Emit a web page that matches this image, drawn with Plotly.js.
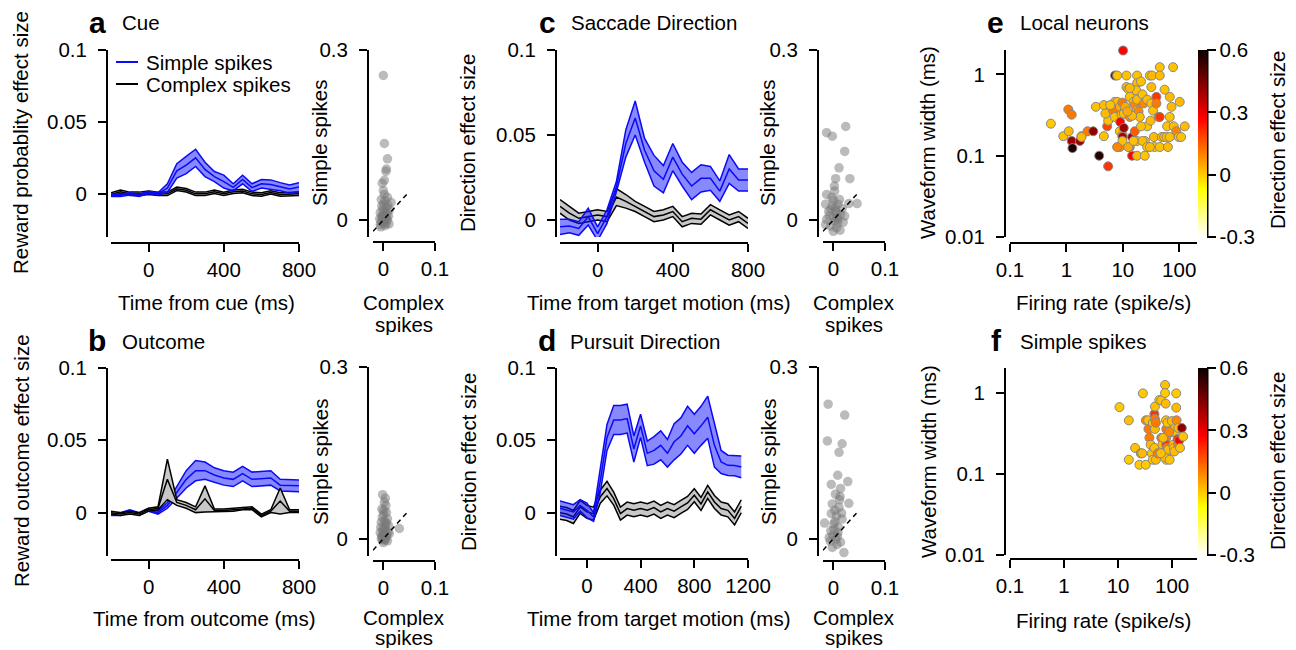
<!DOCTYPE html>
<html>
<head>
<meta charset="utf-8">
<script src="https://cdn.plot.ly/plotly-3.0.1.min.js"></script>
<style>html,body{margin:0;padding:0;background:#fff;}#chart{width:1296px;height:650px;}</style>
</head>
<body>
<div id="chart"></div>
<script>
// ---------- DATA ----------
const timeABC = [-200,-150,-100,-50,0,50,100,150,200,250,300,350,400,450,500,550,600,650,700,750,800];
const timeD = [-200,-150,-100,-50,0,50,100,150,200,250,300,350,400,450,500,550,600,650,700,750,800,850,900,950,1000,1050,1100,1150];

// a: Cue (reward probability effect size)
const cueSimpleMean = [-0.001,-0.001,0.000,-0.001,0.001,0.000,0.004,0.016,0.020,0.025,0.017,0.012,0.0085,0.0045,0.010,0.0043,0.007,0.0065,0.005,0.0033,0.0047];
const cueSimpleSem  = [0.0008,0.0008,0.0008,0.0008,0.0008,0.0008,0.003,0.005,0.006,0.006,0.005,0.0035,0.0045,0.0025,0.003,0.0027,0.003,0.0032,0.0028,0.0028,0.003];
const cueComplexMean = [-0.0005,0.0015,0.000,0.000,0.0008,0.000,0.000,0.0035,0.0025,0.000,0.000,0.0015,0.000,0.0015,0.002,0.000,-0.0005,0.001,-0.0005,-0.0005,0.000];
const cueComplexSem  = [0.0012,0.0012,0.0012,0.0012,0.0012,0.0012,0.0012,0.0012,0.0012,0.0012,0.0012,0.0012,0.0012,0.0012,0.0012,0.0012,0.0012,0.0012,0.0012,0.0012,0.0012];

// b: Outcome
const outSimpleMean = [-0.001,-0.001,0.001,-0.001,0.002,0.000,0.005,0.014,0.023,0.029,0.029,0.026,0.024,0.023,0.027,0.023,0.0235,0.024,0.019,0.0185,0.0185];
const outSimpleSem  = [0.001,0.001,0.001,0.001,0.001,0.001,0.002,0.004,0.006,0.007,0.006,0.005,0.005,0.005,0.005,0.005,0.005,0.005,0.004,0.004,0.004];
const outComplexMean = [0.000,-0.001,0.000,-0.001,0.002,0.003,0.023,0.007,0.005,0.002,0.0095,0.0015,0.0015,0.002,0.003,0.003,-0.002,0.001,0.008,0.001,0.001];
const outComplexSem  = [0.001,0.001,0.001,0.001,0.001,0.001,0.014,0.002,0.002,0.002,0.009,0.001,0.001,0.001,0.001,0.001,0.001,0.001,0.009,0.001,0.001];

// c: Saccade direction
const sacSimpleMean = [-0.004,-0.0035,-0.005,0.002,-0.008,0.002,0.0196,0.045,0.060,0.041,0.029,0.024,0.037,0.027,0.020,0.0245,0.0245,0.017,0.030,0.0235,0.0235];
const sacSimpleSem  = [0.0045,0.004,0.004,0.005,0.004,0.004,0.003,0.008,0.010,0.007,0.009,0.008,0.008,0.007,0.008,0.008,0.007,0.006,0.0085,0.0065,0.0065];
const sacComplexMean = [0.008,0.004,0.001,0.002,0.003,0.002,0.0135,0.011,0.008,0.005,0.002,0.003,0.005,-0.001,0.001,0.0005,0.006,0.003,0.000,0.002,-0.002];
const sacComplexSem  = [0.004,0.004,0.003,0.003,0.003,0.003,0.005,0.004,0.003,0.003,0.003,0.003,0.003,0.003,0.003,0.003,0.003,0.003,0.003,0.003,0.003];

// d: Pursuit direction
const purSimpleMean = [0.003,0.0016,0.0005,0.005,0.0016,-0.003,0.022,0.052,0.064,0.064,0.065,0.044,0.060,0.041,0.043,0.0465,0.041,0.049,0.053,0.060,0.0545,0.060,0.066,0.0465,0.035,0.0327,0.0325,0.0316];
const purSimpleSem  = [0.005,0.005,0.005,0.004,0.005,0.003,0.008,0.009,0.010,0.010,0.010,0.009,0.008,0.0085,0.0095,0.010,0.0095,0.0125,0.0125,0.0135,0.0135,0.0135,0.0145,0.015,0.008,0.007,0.007,0.0075];
const purComplexMean = [0.000,-0.001,-0.003,0.004,0.0005,-0.0007,0.011,0.0166,0.0097,-0.0007,0.0028,0.0016,0.0028,0.0016,0.0035,0.0005,0.0028,0.001,0.004,0.0067,0.012,0.006,0.0143,0.0074,0.0028,0.0016,-0.004,0.0044];
const purComplexSem  = [0.0045,0.0045,0.0045,0.0045,0.0045,0.0045,0.0045,0.005,0.0045,0.0045,0.0045,0.0045,0.0045,0.0045,0.0045,0.0045,0.0045,0.0045,0.0045,0.0045,0.0045,0.0045,0.0045,0.0045,0.0045,0.0045,0.0045,0.0045];

// scatter: per-neuron effect sizes (complex spikes vs simple spikes)
const cueCS = [0,0.002,0.008,0.006,0.005,-0.002,0.0,0.008,0.003,0.015,-0.003,0.006,-0.006,0.0,0.010,-0.003,0.003,0.008,-0.004,0.0,0.005,-0.006,0.011,0.002,-0.004,0.012,0.004,-0.001,0.007,-0.007,0.002,0.004,-0.002,0.001,0.009,-0.005,0.003,0.006,0.000,0.002];
const cueSS = [0.255,0.135,0.108,0.090,0.086,0.065,0.052,0.040,0.034,0.031,0.025,0.022,0.013,0.010,0.007,0.004,0.001,0.0,-0.003,-0.005,-0.007,-0.008,-0.007,0.045,0.036,0.018,0.015,0.019,0.011,0.002,-0.002,0.005,0.008,0.028,0.026,-0.012,-0.010,0.003,0.001,0.070];
const outCS = [-0.0013,0.0038,0.005,-0.003,0.001,0.008,-0.004,0.004,0.010,-0.001,0.005,-0.006,0.001,0.0115,-0.003,0.005,0.008,0.000,0.031,-0.004,0.002,0.006,-0.002,0.003,0.007,-0.005,0.002,0.004,0.009,-0.002,0.000,0.006,0.003,0.001,-0.001];
const outSS = [0.077,0.071,0.058,0.052,0.043,0.035,0.029,0.026,0.023,0.017,0.014,0.011,0.008,0.009,0.005,0.002,-0.0035,-0.0065,0.018,0.000,0.064,0.046,0.038,0.020,0.006,0.020,0.031,-0.002,0.012,0.003,0.012,0.028,0.0,0.050,-0.002];
const sacCS = [-0.013,-0.002,0.024,0.022,0.011,0.0045,0.032,0.0025,-0.013,0.000,-0.015,0.009,0.030,0.046,-0.005,0.0045,0.014,-0.008,0.022,0.000,0.008,-0.015,-0.005,0.006,0.013,0.001,0.009,-0.013,0.004,0.017,-0.003,0.006,0.003,-0.009,0.012,0.002,0.019,-0.002,0.007,0.0];
const sacSS = [0.154,0.148,0.165,0.121,0.092,0.073,0.073,0.051,0.045,0.035,0.028,0.028,0.029,0.029,0.019,0.016,0.010,0.007,0.007,0.004,0.001,-0.008,-0.011,-0.014,-0.018,-0.036,-0.005,0.001,0.022,0.020,0.040,0.012,-0.002,0.015,0.036,0.060,-0.004,0.025,0.005,-0.020];
const purCS = [-0.010,0.022,-0.0115,0.017,0.011,0.0085,0.028,-0.004,0.014,0.013,0.030,-0.002,0.011,-0.004,0.006,0.017,-0.017,0.001,-0.005,0.009,-0.023,-0.008,0.005,0.014,-0.021,-0.002,0.0205,0.007,0.012,0.003,0.010,-0.001,0.003,0.016,-0.006,0.008,0.001,0.004];
const purSS = [0.235,0.216,0.171,0.166,0.151,0.111,0.100,0.095,0.088,0.074,0.062,0.061,0.055,0.044,0.040,0.0345,0.0275,0.026,0.014,0.011,0.001,0.002,-0.0006,-0.006,-0.012,-0.015,-0.024,-0.010,0.068,0.050,0.020,0.006,0.030,0.045,-0.004,0.004,0.016,0.078];
const unityX = [-0.02,0.05];
const unityY = [-0.02,0.05];

// e: local neurons
const localRate = [10.1,0.53,1.08,1.24,0.88,1.1,1.24,1.28,1.73,1.85,2.37,2.99,3.81,4.61,3.33,4.61,5.5,5.28,5.5,4.9,6.74,7.21,7.21,7.3,7.93,7.93,8.85,8.85,9.5,9.86,9.0,10.4,9.86,8.85,9.86,11.6,11.6,10.9,12.5,14.6,14.6,16.3,13.3,12.5,13.3,15.5,16.3,17.9,17.9,17.2,17.9,17.9,19,20,17.9,17.9,22.3,23.5,24.5,24.5,27,27,30.1,31,32,33,34.4,35.5,36.5,39.4,43,45.2,45.2,39.4,45.2,45.2,49,54,59.3,61,63,68,68,68,73,77.8,80,89,98,102,108,125,55,32,21,13.3,10.4,13.3,14.6,21,22.3,27,30.1,15.5,7.93,1.85,9.86,11,12,6.0];
const localWidth = [1.97,0.248,0.37,0.32,0.174,0.20,0.152,0.124,0.152,0.174,0.20,0.20,0.10,0.174,0.40,0.42,0.074,0.23,0.27,0.33,0.36,0.30,0.46,0.97,0.97,0.46,0.40,0.20,0.32,0.18,0.26,0.22,0.17,0.128,0.152,0.97,0.70,0.36,0.66,0.10,0.17,0.20,0.128,0.128,0.53,0.46,0.42,0.97,0.78,0.64,0.49,0.36,0.35,0.30,0.152,0.10,0.57,0.44,0.152,0.10,0.49,0.23,0.97,0.27,0.44,0.97,0.36,0.17,0.128,0.53,0.30,1.23,0.97,0.44,0.30,0.128,0.17,0.17,0.17,0.23,0.128,0.17,0.53,0.30,0.40,1.23,0.23,0.20,0.17,0.46,0.17,0.23,0.65,0.70,0.82,0.68,0.33,0.30,0.31,0.23,0.152,0.128,0.128,0.152,0.128,0.17,0.45,0.40,0.35,0.42];
const localEffect = [0.27,0.0,0.11,0.11,0.01,0.02,0.40,0.57,0.40,0.09,0.11,0.42,0.57,0.01,0.01,0.02,0.20,0.18,0.01,0.02,0.11,0.01,0.02,0.50,0.01,0.02,0.04,0.01,0.02,0.04,0.27,0.40,0.38,0.09,0.01,0.01,0.02,0.11,0.01,0.27,0.40,0.15,0.09,0.04,0.01,0.02,0.09,0.01,0.02,0.01,0.02,0.01,0.09,0.02,0.01,0.02,0.01,0.09,0.02,0.01,0.02,0.01,0.01,0.02,0.01,0.02,0.01,0.02,0.01,0.20,0.11,0.01,0.02,0.11,0.20,0.01,0.02,0.01,0.02,0.01,0.02,0.01,0.02,0.01,0.02,0.01,0.02,0.09,0.01,0.02,0.01,0.02,0.01,0.02,0.01,0.02,0.01,0.09,0.02,0.01,0.02,0.01,0.02,0.01,0.09,0.02,0.11,0.04,0.04,0.01];

// f: simple spikes
const ssRate = [10.6,15.8,15.8,20.6,24.8,26.3,28.7,28,32.5,32.7,36.5,36,38,40,42,44,44,47,47,48,48,48,50,58,50,54,63,63,66,74,74,76,77,78,78,78,80,78,78,74,82,85,90,98.6,102,105,108,113,119,119,121,123,126,130,130,135,151,160,68,88,62,110,140];
const ssWidth = [0.67,0.46,0.15,0.21,0.13,0.18,0.99,0.18,0.13,0.46,0.36,0.46,0.28,0.23,0.18,0.43,0.15,0.21,0.55,0.68,0.48,0.36,0.43,0.82,0.15,0.18,0.81,0.28,0.23,1.26,1.0,0.74,0.46,0.36,0.28,0.23,0.21,0.18,0.15,0.16,0.43,0.20,0.15,0.45,0.33,0.23,0.21,0.37,0.99,0.66,0.46,0.31,0.27,0.23,0.37,0.26,0.37,0.29,0.28,0.33,0.18,0.19,0.21];
const ssEffect = [0.0,0.01,0.0,0.01,0.0,0.09,0.0,0.02,0.0,0.09,0.11,0.01,0.11,0.02,0.01,0.02,0.0,0.01,0.20,0.01,0.11,0.02,0.11,0.01,0.02,0.11,0.01,0.11,0.02,0.01,0.0,0.02,0.01,0.11,0.11,0.20,0.11,0.02,0.01,0.02,0.01,0.02,0.01,0.02,0.01,0.02,0.01,0.02,0.0,0.02,0.09,0.01,0.20,0.11,0.02,0.27,0.42,0.01,0.02,0.09,0.01,0.02,0.01];

// tick labels
const tsYTicks = [0,0.05,0.1];      const tsYText = ['0','0.05','0.1'];
const timeTicks = [0,400,800];      const timeText = ['0','400','800'];
const timeTicksD = [0,400,800,1200]; const timeTextD = ['0','400','800','1200'];
const scYTicks = [0,0.3];           const scYText = ['0','0.3'];
const scXTicks = [0,0.1];           const scXText = ['0','0.1'];
const logXTicks = [0.1,1,10,100];   const logXText = ['0.1','1','10','100'];
const logYTicks = [0.01,0.1,1];     const logYText = ['0.01','0.1','1'];
const cbTicks = [-0.3,0,0.3,0.6];   const cbText = ['-0.3','0','0.3','0.6'];

// ---------- LAYOUT HELPERS ----------
const W = 1296, H = 650;
const px = x => x / W;
const py = y => 1 - y / H;
const FONT = 'Liberation Sans, Arial, Helvetica, sans-serif';
const FS = 20.5;
const BLUE = 'rgb(10,10,245)';
const BLUEFILL = 'rgba(20,20,255,0.5)';
const GRAYFILL = 'rgb(200,200,200)';

const layout = {
  width: W, height: H,
  margin: {l:0, r:0, t:0, b:0},
  paper_bgcolor: '#fff', plot_bgcolor: 'rgba(0,0,0,0)',
  showlegend: false,
  font: {family: FONT, size: FS, color: '#000'},
  annotations: [], shapes: []
};

const axCommon = {
  showline: true, linecolor: '#000', linewidth: 2,
  ticks: 'outside', ticklen: 8, tickwidth: 2, tickcolor: '#000',
  showgrid: false, zeroline: false, fixedrange: true,
  tickfont: {family: FONT, size: FS, color: '#000'},
  anchor: 'free'
};

function panel(n, g, xo, yo) {
  const xn = n === 1 ? 'xaxis' : 'xaxis' + n;
  const yn = n === 1 ? 'yaxis' : 'yaxis' + n;
  layout[xn] = Object.assign({}, axCommon, {domain: [px(g.x0), px(g.x1)], position: py(g.xl)}, xo);
  layout[yn] = Object.assign({}, axCommon, {domain: [py(g.y1), py(g.y0)], position: px(g.yl), ticklabelstandoff: 7}, yo);
  return {xaxis: n === 1 ? 'x' : 'x' + n, yaxis: n === 1 ? 'y' : 'y' + n};
}

const tsX = {range: [-200, 800], tickvals: timeTicks, ticktext: timeText};
const scX = {range: [-0.02, 0.1], tickvals: scXTicks, ticktext: scXText};
const scY = {range: [-0.03, 0.3], tickvals: scYTicks, ticktext: scYText};

const pA  = panel(1,  {x0:111, x1:299, y0:50,  y1:237, xl:243, yl:107}, tsX, {range:[-0.03,0.1], tickvals:tsYTicks, ticktext:tsYText});
const pAs = panel(2,  {x0:373, x1:435, y0:50,  y1:237, xl:242, yl:368}, scX, scY);
const pB  = panel(3,  {x0:111, x1:299, y0:368, y1:556, xl:560, yl:107}, tsX, {range:[-0.03,0.1], tickvals:tsYTicks, ticktext:tsYText});
const pBs = panel(4,  {x0:373, x1:435, y0:367, y1:556, xl:561, yl:368}, scX, scY);
const pC  = panel(5,  {x0:560, x1:748, y0:50,  y1:237, xl:243, yl:556}, tsX, {range:[-0.01,0.1], tickvals:tsYTicks, ticktext:tsYText});
const pCs = panel(6,  {x0:823, x1:885, y0:50,  y1:237, xl:242, yl:818}, scX, scY);
const pD  = panel(7,  {x0:560, x1:748, y0:368, y1:556, xl:559, yl:556}, {range:[-200,1200], tickvals:timeTicksD, ticktext:timeTextD}, {range:[-0.03,0.1], tickvals:tsYTicks, ticktext:tsYText});
const pDs = panel(8,  {x0:823, x1:885, y0:367, y1:556, xl:561, yl:818}, scX, scY);
const pE  = panel(9,  {x0:1010, x1:1197, y0:50, y1:237, xl:243, yl:1005},
  {type:'log', range:[-1, 2.315], tickvals:logXTicks, ticktext:logXText},
  {type:'log', range:[-2, 0.301], tickvals:logYTicks, ticktext:logYText});
const pF  = panel(10, {x0:1010, x1:1197, y0:368, y1:555, xl:559, yl:1005},
  {type:'log', range:[-1, 2.46], tickvals:logXTicks, ticktext:logXText},
  {type:'log', range:[-2, 0.309], tickvals:logYTicks, ticktext:logYText});

// ---------- TRACES ----------
const data = [];
function band(p, t, mean, sem, lineColor, fillColor) {
  const lo = mean.map((m, i) => m - sem[i]);
  const hi = mean.map((m, i) => m + sem[i]);
  const base = Object.assign({x: t, mode: 'lines', hoverinfo: 'skip'}, p);
  data.push(Object.assign({}, base, {y: lo, line: {color: lineColor, width: 1.5}}));
  data.push(Object.assign({}, base, {y: hi, line: {color: lineColor, width: 1.5}, fill: 'tonexty', fillcolor: fillColor}));
  data.push(Object.assign({}, base, {y: mean, line: {color: lineColor, width: 1.5}}));
}
band(pA, timeABC, cueComplexMean, cueComplexSem, '#000', GRAYFILL);
band(pA, timeABC, cueSimpleMean, cueSimpleSem, BLUE, BLUEFILL);
band(pB, timeABC, outSimpleMean, outSimpleSem, BLUE, BLUEFILL);
band(pB, timeABC, outComplexMean, outComplexSem, '#000', GRAYFILL);
band(pC, timeABC, sacComplexMean, sacComplexSem, '#000', GRAYFILL);
band(pC, timeABC, sacSimpleMean, sacSimpleSem, BLUE, BLUEFILL);
band(pD, timeD, purComplexMean, purComplexSem, '#000', GRAYFILL);
band(pD, timeD, purSimpleMean, purSimpleSem, BLUE, BLUEFILL);

function cloud(p, xs, ys) {
  data.push(Object.assign({x: xs, y: ys, mode: 'markers', cliponaxis: false, hoverinfo: 'skip',
    marker: {size: 9.5, color: 'rgba(120,120,120,0.5)', line: {width: 0}}}, p));
  data.push(Object.assign({x: unityX, y: unityY, mode: 'lines', hoverinfo: 'skip',
    line: {color: '#000', width: 1.5, dash: '5px,4px'}}, p));
}
cloud(pAs, cueCS, cueSS);
cloud(pBs, outCS, outSS);
cloud(pCs, sacCS, sacSS);
cloud(pDs, purCS, purSS);

const hotR = [[0,'rgb(255,255,255)'],[0.254,'rgb(255,255,0)'],[0.635,'rgb(255,0,0)'],[1,'rgb(10,0,0)']];
function colorPts(p, xs, ys, cs, yTop) {
  data.push(Object.assign({x: xs, y: ys, mode: 'markers', cliponaxis: false, hoverinfo: 'skip',
    marker: {size: 9, color: cs, colorscale: hotR, cmin: -0.3, cmax: 0.6, showscale: true,
      line: {color: 'rgb(135,135,135)', width: 1},
      colorbar: {x: px(1198), xanchor: 'left', y: py(yTop), yanchor: 'top',
        len: 187, lenmode: 'pixels', thickness: 9, thicknessmode: 'pixels',
        xpad: 0, ypad: 0, outlinewidth: 0, tickvals: cbTicks, ticktext: cbText,
        ticks: 'outside', ticklen: 9, tickwidth: 2, tickcolor: '#000',
        tickfont: {family: FONT, size: FS, color: '#000'}}}}, p));
}
colorPts(pE, localRate, localWidth, localEffect, 50);
colorPts(pF, ssRate, ssWidth, ssEffect, 368);

// ---------- TEXT ----------
function ann(text, x, y, opts) {
  layout.annotations.push(Object.assign({text: text, x: px(x), y: py(y), xref: 'paper', yref: 'paper',
    showarrow: false, xanchor: 'center', yanchor: 'middle', font: {family: FONT, size: FS, color: '#000'}}, opts || {}));
}
const BIG = {family: FONT, size: 30, color: '#000'};
// panel letters and titles
ann('<b>a</b>', 97, 22, {font: BIG});
ann('Cue', 120, 23, {xanchor: 'left'});
ann('<b>b</b>', 97, 340, {font: BIG});
ann('Outcome', 120, 341, {xanchor: 'left'});
ann('<b>c</b>', 547, 22, {font: BIG});
ann('Saccade Direction', 569, 23, {xanchor: 'left'});
ann('<b>d</b>', 547, 340, {font: BIG});
ann('Pursuit Direction', 568, 341, {xanchor: 'left'});
ann('<b>e</b>', 995, 22, {font: BIG});
ann('Local neurons', 1018, 23, {xanchor: 'left'});
ann('<b>f</b>', 996, 340, {font: BIG});
ann('Simple spikes', 1018, 341, {xanchor: 'left'});

// axis titles
ann('Reward probablity effect size', 21, 143, {textangle: -90});
ann('Time from cue (ms)', 206, 302);
ann('Simple spikes', 320, 143, {textangle: -90});
ann('Complex', 404, 302, {height: 21});
ann('spikes', 404, 324, {height: 21});
ann('Reward outcome effect size', 21, 461, {textangle: -90});
ann('Time from outcome (ms)', 204, 618);
ann('Simple spikes', 320, 462, {textangle: -90});
ann('Complex', 404, 617, {height: 20});
ann('spikes', 404, 650, {yanchor: 'bottom', height: 21});
ann('Direction effect size', 468, 143, {textangle: -90});
ann('Time from target motion (ms)', 659, 302);
ann('Simple spikes', 768, 143, {textangle: -90});
ann('Complex', 854, 302, {height: 21});
ann('spikes', 854, 324, {height: 21});
ann('Direction effect size', 468, 462, {textangle: -90});
ann('Time from target motion (ms)', 659, 618);
ann('Simple spikes', 768, 462, {textangle: -90});
ann('Complex', 854, 617, {height: 20});
ann('spikes', 854, 650, {yanchor: 'bottom', height: 21});
ann('Waveform width (ms)', 928, 143, {textangle: -90});
ann('Firing rate (spike/s)', 1103, 302);
ann('Direction effect size', 1277, 140, {textangle: -90});
ann('Waveform width (ms)', 928, 462, {textangle: -90});
ann('Firing rate (spike/s)', 1103, 620);
ann('Direction effect size', 1277, 461, {textangle: -90});

// legend (panel a)
layout.shapes.push({type:'line', xref:'paper', yref:'paper', x0:px(116), x1:px(138), y0:py(62), y1:py(62), line:{color:BLUE, width:2}});
layout.shapes.push({type:'line', xref:'paper', yref:'paper', x0:px(116), x1:px(138), y0:py(84), y1:py(84), line:{color:'#000', width:2}});
ann('Simple spikes', 144, 62, {xanchor: 'left'});
ann('Complex spikes', 144, 84, {xanchor: 'left'});

// colorbar spines
layout.shapes.push({type:'line', xref:'paper', yref:'paper', x0:px(1207.5), x1:px(1207.5), y0:py(50), y1:py(237), line:{color:'#000', width:2}});
layout.shapes.push({type:'line', xref:'paper', yref:'paper', x0:px(1207.5), x1:px(1207.5), y0:py(368), y1:py(555), line:{color:'#000', width:2}});

Plotly.newPlot('chart', data, layout, {displayModeBar: false, staticPlot: true});
</script>
</body>
</html>
